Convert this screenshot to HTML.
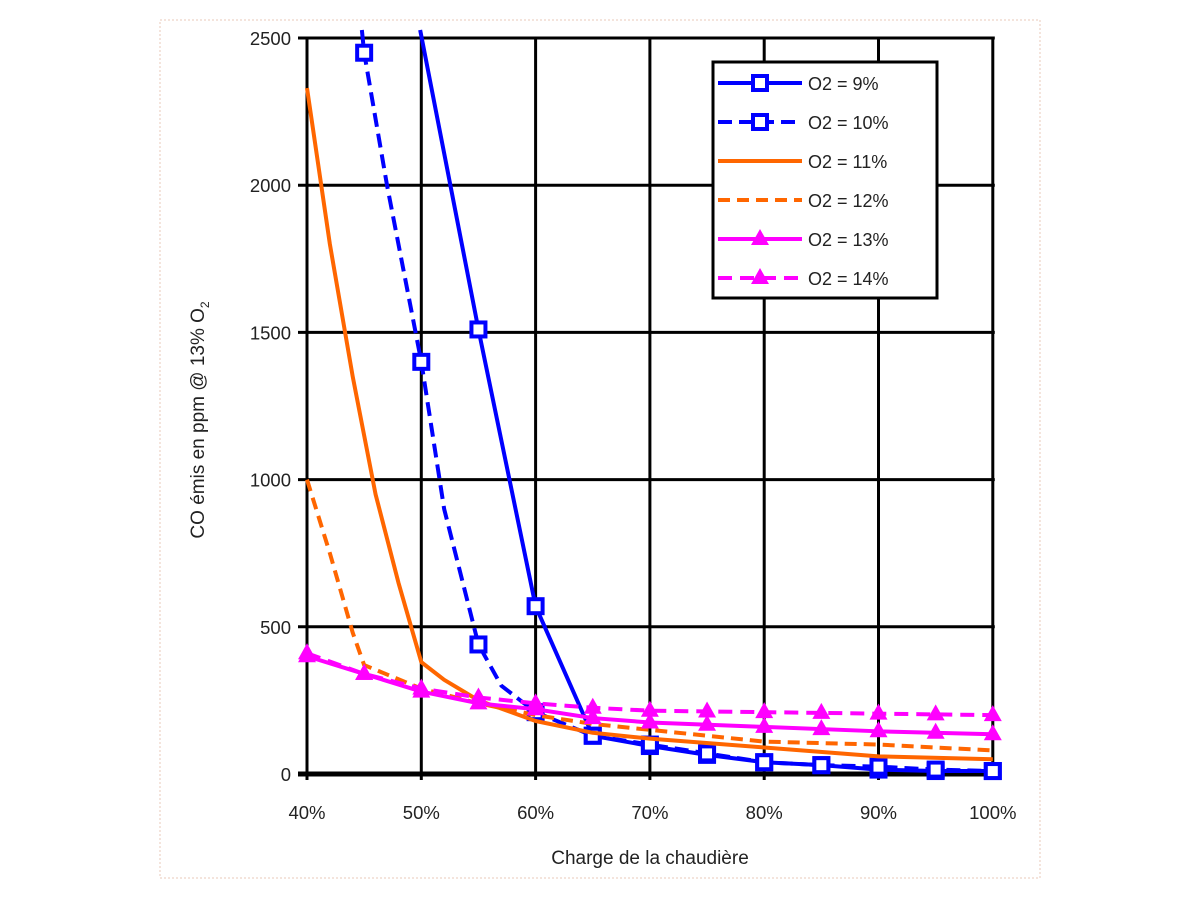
<!DOCTYPE html>
<html><head><meta charset="utf-8"><style>
html,body{margin:0;padding:0;background:#fff;width:1200px;height:900px;overflow:hidden}
svg text{font-family:"Liberation Sans",sans-serif;fill:#222}
</style></head><body>
<svg id="s" width="1200" height="900" xmlns="http://www.w3.org/2000/svg">
<rect x="160" y="20" width="880" height="858" fill="none" stroke="#e8c8b8" stroke-width="1" stroke-dasharray="2,2"/>
<g id="grid"></g>
<g id="series"></g>
<g id="labels" font-size="18.5"></g>
<text x="650" y="864" font-size="19" text-anchor="middle">Charge de la chaudière</text>
<text transform="translate(204,420) rotate(-90)" font-size="19" text-anchor="middle">CO émis en ppm @ 13% O<tspan font-size="12" dy="5">2</tspan></text>
<rect x="713" y="62" width="224" height="236" fill="#fff" stroke="#000" stroke-width="3"/>
<g id="legend" font-size="18"></g>
</svg>
<script>
const NS="http://www.w3.org/2000/svg";
function X(p){return 307+(p-40)*11.43}
function Y(v){return 774-v*0.2944}
function el(t,a,parent){const e=document.createElementNS(NS,t);for(const k in a)e.setAttribute(k,a[k]);document.getElementById(parent).appendChild(e);return e}
for(let p=40;p<=100;p+=10){el('line',{x1:X(p),y1:Y(2500),x2:X(p),y2:780,stroke:'#000','stroke-width':3},'grid');
 const t=el('text',{x:X(p),y:819,'text-anchor':'middle'},'labels');t.textContent=p+'%';}
for(let v=0;v<=2500;v+=500){el('line',{x1:298,y1:Y(v),x2:X(100)+2,y2:Y(v),stroke:'#000','stroke-width':v==0?5:3},'grid');
 const t=el('text',{x:291,y:Y(v)+7,'text-anchor':'end'},'labels');t.textContent=v;}
const B='#0000ff',O='#ff6600',M='#ff00ff';
const S=[
 {c:B,d:null,m:'sq',pts:[[49.9,2560],[55,1510],[60,570],[65,130],[70,95],[75,65],[80,40],[85,30],[90,15],[95,10],[100,10]],mk:[55,60,65,70,75,80,85,90,95,100]},
 {c:B,d:'14,7',m:'sq',pts:[[44.8,2560],[45,2450],[47,2000],[50,1400],[52,900],[55,440],[57,300],[60,210],[65,130],[70,100],[75,70],[80,40],[85,30],[90,25],[95,15],[100,10]],mk:[45,50,55,60,65,70,75,80,85,90,95,100]},
 {c:O,d:null,m:null,pts:[[40,2330],[42,1800],[44,1350],[46,950],[48,650],[50,380],[52,320],[55,250],[60,180],[65,140],[70,120],[80,90],[90,60],[100,50]]},
 {c:O,d:'12,7',m:null,pts:[[40,1000],[42,750],[44,480],[45,370],[50,290],[55,240],[60,200],[65,170],[70,150],[80,110],[90,100],[100,80]]},
 {c:M,d:null,m:'tri',pts:[[40,400],[45,340],[50,280],[55,240],[60,220],[65,190],[70,175],[80,160],[90,145],[100,135]],mk:[40,45,50,55,60,65,70,75,80,85,90,95,100]},
 {c:M,d:'14,8',m:'tri',pts:[[40,410],[45,340],[50,290],[55,260],[60,240],[65,225],[70,215],[80,210],[90,205],[100,200]],mk:[40,45,50,55,60,65,70,75,80,85,90,95,100]},
];
function interp(pts,p){for(let i=0;i<pts.length-1;i++){if(p>=pts[i][0]&&p<=pts[i+1][0]){const t=(p-pts[i][0])/(pts[i+1][0]-pts[i][0]);return pts[i][1]+t*(pts[i+1][1]-pts[i][1]);}}return pts[pts.length-1][1]}
function marker(type,x,y,c,g){
 if(type=='sq')el('rect',{x:x-7,y:y-7,width:14,height:14,fill:'#fff',stroke:c,'stroke-width':4},g);
 else el('path',{d:`M${x} ${y-10} L${x+9} ${y+6} L${x-9} ${y+6} Z`,fill:c},g);
}
S.forEach(s=>{
 const pts=s.pts.map(p=>[X(p[0]),Math.max(Y(Math.min(p[1],2560)),30)]);
 const a={points:pts.map(p=>p.join(',')).join(' '),fill:'none',stroke:s.c,'stroke-width':4,'stroke-linejoin':'round'};
 if(s.d)a['stroke-dasharray']=s.d;
 el('polyline',a,'series');
 if(s.mk)s.mk.forEach(p=>marker(s.m,X(p),Y(interp(s.pts,p)),s.c,'series'));
});
const L=[['O2 = 9%',B,null,'sq'],['O2 = 10%',B,'14,7','sq'],['O2 = 11%',O,null,null],['O2 = 12%',O,'12,7',null],['O2 = 13%',M,null,'tri'],['O2 = 14%',M,'14,8','tri']];
L.forEach((l,i)=>{const y=83+i*39;
 const a={x1:718,y1:y,x2:802,y2:y,stroke:l[1],'stroke-width':4};if(l[2])a['stroke-dasharray']=l[2];
 el('line',a,'legend');if(l[3])marker(l[3],760,y,l[1],'legend');
 const t=el('text',{x:808,y:y+7},'legend');t.textContent=l[0];});
</script>
</body></html>
